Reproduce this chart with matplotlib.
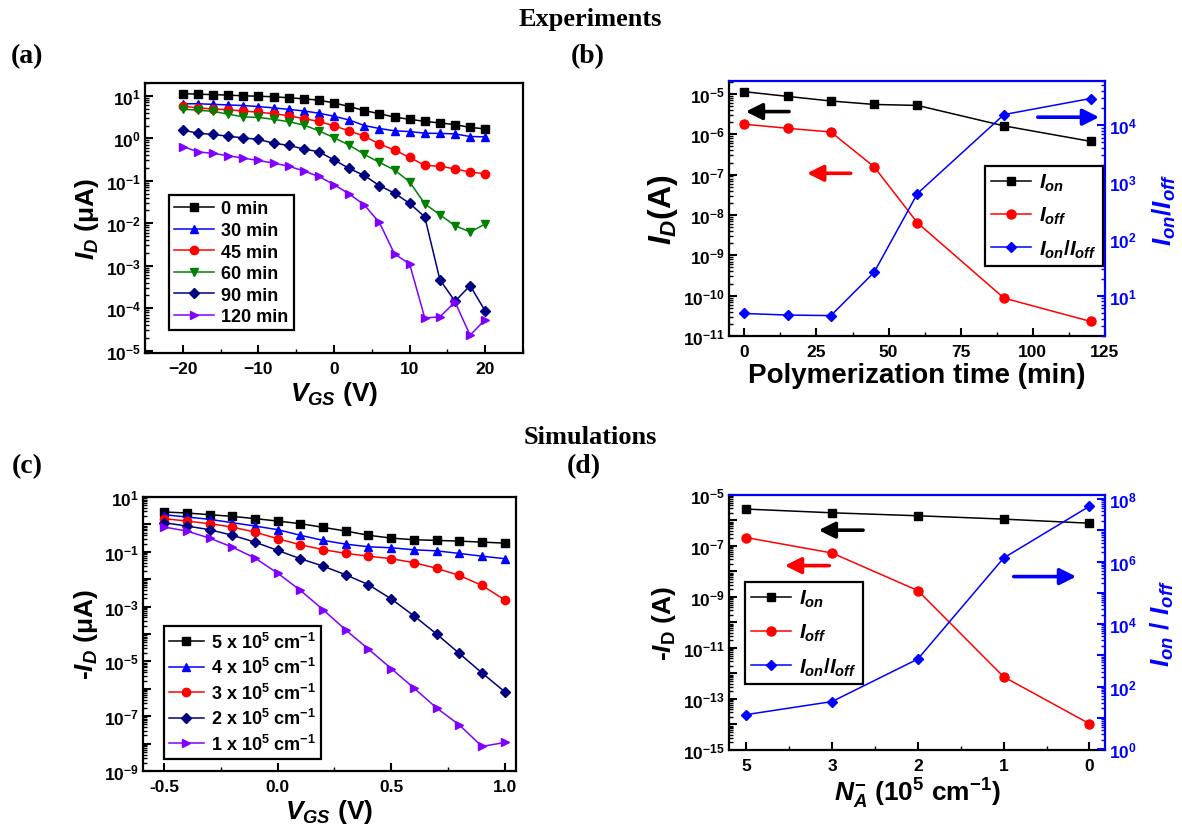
import numpy as np
import matplotlib
matplotlib.use("Agg")
import matplotlib.pyplot as plt
from matplotlib.ticker import FixedLocator, FuncFormatter, LogLocator, NullFormatter, MultipleLocator

plt.rcParams['font.family'] = ['Liberation Sans', 'DejaVu Sans']
plt.rcParams['font.weight'] = 'bold'
plt.rcParams['axes.labelweight'] = 'bold'
plt.rcParams['mathtext.fontset'] = 'custom'
plt.rcParams['mathtext.rm'] = 'Liberation Sans:bold'
plt.rcParams['mathtext.bf'] = 'Liberation Sans:bold'
plt.rcParams['mathtext.it'] = 'Liberation Sans:bold:italic'
plt.rcParams['mathtext.bfit'] = 'Liberation Sans:bold:italic'
plt.rcParams['axes.linewidth'] = 1.6

# ---------------- data ----------------
# (a) experiments, transfer curves
vgs_a = [-20, -18, -16, -14, -12, -10, -8, -6, -4, -2, 0, 2, 4, 6, 8, 10, 12, 14, 16, 18, 20]
id_0min = [11.3, 10.9, 10.7, 10.4, 10.0, 9.8, 9.5, 9.0, 8.5, 7.9, 6.8, 5.6, 4.5, 3.8, 3.15, 2.8, 2.5, 2.3, 2.1, 1.8, 1.67]
id_30min = [6.5, 6.5, 6.3, 6.1, 5.9, 5.6, 5.2, 4.8, 4.4, 3.9, 3.3, 2.7, 2.0, 1.7, 1.5, 1.44, 1.32, 1.3, 1.27, 1.1, 1.08]
id_45min = [5.7, 5.2, 4.9, 4.7, 4.4, 4.1, 3.8, 3.4, 2.9, 2.5, 1.96, 1.5, 1.12, 0.73, 0.53, 0.355, 0.23, 0.22, 0.19, 0.16, 0.146]
id_60min = [4.85, 4.6, 4.3, 3.7, 3.2, 3.1, 2.8, 2.45, 2.05, 1.5, 1.03, 0.69, 0.42, 0.27, 0.18, 0.094, 0.0287, 0.0158, 0.0088, 0.0062, 0.0096]
id_90min = [1.56, 1.32, 1.23, 1.12, 1.02, 0.94, 0.77, 0.68, 0.56, 0.48, 0.31, 0.195, 0.133, 0.077, 0.051, 0.0293, 0.0141, 4.7e-4, 1.45e-4, 3.4e-4, 8.5e-5]
id_120min = [0.64, 0.48, 0.44, 0.39, 0.34, 0.30, 0.26, 0.22, 0.17, 0.126, 0.081, 0.049, 0.027, 0.0104, 0.00189, 0.0011, 5.9e-5, 6.2e-5, 1.4e-4, 2.3e-5, 5.4e-5]
labels_a = ['0 min', '30 min', '45 min', '60 min', '90 min', '120 min']

# (b) experiments, on/off vs polymerization time
poly_time = [0, 15, 30, 45, 60, 90, 120]
ion_b = [1.14e-5, 8.7e-6, 6.7e-6, 5.5e-6, 5.2e-6, 1.62e-6, 6.7e-7]
ioff_b = [1.78e-6, 1.41e-6, 1.14e-6, 1.56e-7, 6.4e-9, 8.7e-11, 2.3e-11]
ratio_b = [4.9, 4.6, 4.5, 26, 630, 15400, 29500]

# (c) simulations, transfer curves
vgs_c = [-0.5, -0.4, -0.3, -0.2, -0.1, 0.0, 0.1, 0.2, 0.3, 0.4, 0.5, 0.6, 0.7, 0.8, 0.9, 1.0]
id_5 = [2.83, 2.6, 2.25, 1.96, 1.62, 1.32, 1.06, 0.78, 0.57, 0.40, 0.315, 0.275, 0.26, 0.245, 0.225, 0.207]
id_4 = [2.25, 1.85, 1.53, 1.15, 0.87, 0.64, 0.40, 0.26, 0.19, 0.152, 0.14, 0.118, 0.108, 0.087, 0.069, 0.056]
id_3 = [1.62, 1.32, 1.06, 0.80, 0.52, 0.30, 0.18, 0.12, 0.087, 0.069, 0.056, 0.040, 0.025, 0.0137, 0.0059, 0.00176]
id_2 = [1.15, 0.87, 0.64, 0.40, 0.225, 0.112, 0.056, 0.030, 0.0144, 0.0063, 0.00191, 4.6e-4, 1.0e-4, 1.95e-5, 3.8e-6, 7.8e-7]
id_1 = [0.80, 0.57, 0.315, 0.148, 0.059, 0.0166, 3.9e-3, 7.7e-4, 1.4e-4, 2.8e-5, 5.5e-6, 1.07e-6, 2.0e-7, 4.8e-8, 7.9e-9, 1.1e-8]
labels_c = [r'5 x 10$^{5}$ cm$^{-1}$', r'4 x 10$^{5}$ cm$^{-1}$', r'3 x 10$^{5}$ cm$^{-1}$',
            r'2 x 10$^{5}$ cm$^{-1}$', r'1 x 10$^{5}$ cm$^{-1}$']

# (d) simulations, on/off vs N_A
na_labels = ['5', '3', '2', '1', '0']
ion_d = [2.8e-6, 2.0e-6, 1.53e-6, 1.13e-6, 7.8e-7]
ioff_d = [2.14e-7, 5.3e-8, 1.78e-9, 7.4e-13, 1.07e-14]
ratio_d = [12.6, 33, 760, 1.3e6, 5.9e7]

VIOLET = '#8000FF'
NAVY = '#000080'
GREEN = '#008000'
BLUE = '#0000FF'
RED = '#FF0000'

TICK_FS = 12.5
LAB_FS = 19


def decade_formatter(labeled):
    def f(v, pos):
        e = int(round(np.log10(v)))
        if e in labeled:
            return r'$10^{%d}$' % e
        return ''
    return FuncFormatter(f)


def set_log_y(ax, lo_e, hi_e, labeled, color='black'):
    ax.set_yscale('log')
    ax.yaxis.set_major_locator(FixedLocator([10.0 ** e for e in range(lo_e, hi_e + 1)]))
    ax.yaxis.set_major_formatter(decade_formatter(labeled))
    ax.yaxis.set_minor_locator(LogLocator(base=10, subs=np.arange(2, 10), numticks=100))
    ax.yaxis.set_minor_formatter(NullFormatter())
    ax.tick_params(axis='y', which='major', direction='in', length=6, width=1.5,
                   labelsize=TICK_FS, colors=color, pad=3)
    ax.tick_params(axis='y', which='minor', direction='in', length=3, width=1.0, colors=color)


def style_x(ax):
    ax.tick_params(axis='x', which='major', direction='in', length=6, width=1.5, labelsize=TICK_FS, pad=6)
    ax.tick_params(axis='x', which='minor', direction='in', length=3, width=1.0)


def box_legend(ax, handles, labels, anchor, fs, hl, ls):
    lg = ax.legend(handles, labels, loc='upper left', bbox_to_anchor=anchor, borderaxespad=0,
                   fontsize=fs, frameon=True, fancybox=False, edgecolor='black', framealpha=1,
                   handlelength=hl, handletextpad=0.4, labelspacing=ls, borderpad=0.3)
    lg.get_frame().set_linewidth(1.6)
    return lg


fig = plt.figure(figsize=(11.82, 8.28), dpi=100)

# ---------------- (a) ----------------
axa = fig.add_axes([0.1227, 0.5725, 0.3198, 0.326])
series_a = [id_0min, id_30min, id_45min, id_60min, id_90min, id_120min]
colors_a = ['black', BLUE, RED, GREEN, NAVY, VIOLET]
markers_a = ['s', '^', 'o', 'v', 'D', '>']
ha = []
for ys, c, m in zip(series_a, colors_a, markers_a):
    h, = axa.plot(vgs_a, ys, color=c, marker=m, markersize=6 if m != 'D' else 5.5, lw=1.1)
    ha.append(h)
axa.set_xlim(-25, 25)
axa.set_ylim(8.8e-6, 20)
set_log_y(axa, -5, 1, range(-5, 2))
axa.xaxis.set_major_locator(MultipleLocator(10))
axa.xaxis.set_minor_locator(MultipleLocator(5))
style_x(axa)
axa.set_xlabel(r'$V_{GS}$ (V)', fontsize=LAB_FS, labelpad=2)
axa.set_ylabel(r'$I_{D}$ (μA)', fontsize=LAB_FS, labelpad=3)
box_legend(axa, ha, labels_a, (0.063, 0.585), 13, 2.2, 0.25)

# ---------------- (b) ----------------
axb = fig.add_axes([0.6168, 0.593, 0.318, 0.308])
axb2 = axb.twinx()
l1, = axb.plot(poly_time, ion_b, color='black', marker='s', markersize=6, lw=1.1)
l2, = axb.plot(poly_time, ioff_b, color=RED, marker='o', markersize=6.5, lw=1.1)
l3, = axb2.plot(poly_time, ratio_b, color=BLUE, marker='D', markersize=5.5, lw=1.1)
axb.set_xlim(-5.3, 125)
axb.set_ylim(1e-11, 2.1e-5)
axb2.set_ylim(1.97, 6e4)
set_log_y(axb, -11, -5, range(-11, -4))
set_log_y(axb2, 0, 5, [1, 2, 3, 4], color=BLUE)
axb.xaxis.set_major_locator(MultipleLocator(25))
axb.xaxis.set_minor_locator(MultipleLocator(12.5))
style_x(axb)
axb.set_xlabel('Polymerization time (min)', fontsize=20, labelpad=2)
axb.set_ylabel(r'$I_{D}$(A)', fontsize=23, labelpad=2)
axb2.set_ylabel(r'$I_{on}/I_{off}$', fontsize=LAB_FS, color=BLUE, labelpad=10)
for s in ['right', 'top']:
    axb2.spines[s].set_color(BLUE)
    axb.spines[s].set_visible(False)
axb2.spines['left'].set_visible(False)
axb2.spines['bottom'].set_visible(False)
box_legend(axb2, [l1, l2, l3], [r'$I_{on}$', r'$I_{off}$', r'$I_{on}/I_{off}$'],
           (0.681, 0.667), 15, 1.9, 0.55)
arrow_kw = dict(arrowstyle='-|>,head_length=0.7,head_width=0.35', lw=2.6, mutation_scale=14)
axb2.annotate('', xy=(0.037, 0.88), xytext=(0.167, 0.88), xycoords='axes fraction',
              arrowprops=dict(color='black', **arrow_kw))
axb2.annotate('', xy=(0.200, 0.638), xytext=(0.331, 0.638), xycoords='axes fraction',
              arrowprops=dict(color=RED, **arrow_kw))
axb2.annotate('', xy=(0.992, 0.858), xytext=(0.814, 0.858), xycoords='axes fraction',
              arrowprops=dict(color=BLUE, **arrow_kw))

# ---------------- (c) ----------------
axc = fig.add_axes([0.121, 0.0676, 0.3156, 0.331])
series_c = [id_5, id_4, id_3, id_2, id_1]
colors_c = ['black', BLUE, RED, NAVY, VIOLET]
markers_c = ['s', '^', 'o', 'D', '>']
hc = []
for ys, c, m in zip(series_c, colors_c, markers_c):
    h, = axc.plot(vgs_c, ys, color=c, marker=m, markersize=6 if m != 'D' else 5.5, lw=1.1)
    hc.append(h)
axc.set_xlim(-0.593, 1.05)
axc.set_ylim(1e-9, 10)
set_log_y(axc, -9, 1, [1, -1, -3, -5, -7, -9])
axc.xaxis.set_major_locator(MultipleLocator(0.5))
axc.xaxis.set_minor_locator(MultipleLocator(0.25))
axc.xaxis.set_major_formatter(FuncFormatter(lambda v, p: '%.1f' % v))
style_x(axc)
axc.set_xlabel(r'$V_{GS}$ (V)', fontsize=LAB_FS, labelpad=2)
axc.set_ylabel(r'-$I_{D}$ (μA)', fontsize=LAB_FS, labelpad=3)
box_legend(axc, hc, labels_c, (0.056, 0.529), 13, 1.9, 0.3)

# ---------------- (d) ----------------
axd = fig.add_axes([0.6168, 0.093, 0.318, 0.308])
axd2 = axd.twinx()
xd = np.arange(len(na_labels))
m1, = axd.plot(xd, ion_d, color='black', marker='s', markersize=6, lw=1.1)
m2, = axd.plot(xd, ioff_d, color=RED, marker='o', markersize=6.5, lw=1.1)
m3, = axd2.plot(xd, ratio_d, color=BLUE, marker='D', markersize=5.5, lw=1.1)
axd.set_xlim(-0.2, 4.18)
axd.set_ylim(1e-15, 1e-5)
axd2.set_ylim(0.93, 1.35e8)
set_log_y(axd, -15, -5, [-5, -7, -9, -11, -13, -15])
set_log_y(axd2, 0, 8, [0, 2, 4, 6, 8], color=BLUE)
axd.xaxis.set_major_locator(FixedLocator(xd))
axd.xaxis.set_minor_locator(FixedLocator(xd[:-1] + 0.5))
axd.set_xticklabels(na_labels)
style_x(axd)
axd.set_xlabel(r'$N_{A}^{-}$ (10$^{5}$ cm$^{-1}$)', fontsize=LAB_FS, labelpad=2)
axd.set_ylabel(r'-$I_{\mathrm{D}}$ (A)', fontsize=LAB_FS, labelpad=4)
axd2.set_ylabel(r'$I_{on}$ / $I_{off}$', fontsize=LAB_FS, color=BLUE, labelpad=8)
for s in ['right', 'top']:
    axd2.spines[s].set_color(BLUE)
    axd.spines[s].set_visible(False)
axd2.spines['left'].set_visible(False)
axd2.spines['bottom'].set_visible(False)
box_legend(axd2, [m1, m2, m3], [r'$I_{on}$', r'$I_{off}$', r'$I_{on}/I_{off}$'],
           (0.043, 0.659), 15, 1.9, 0.6)
axd2.annotate('', xy=(0.231, 0.862), xytext=(0.364, 0.862), xycoords='axes fraction',
              arrowprops=dict(color='black', **arrow_kw))
axd2.annotate('', xy=(0.141, 0.723), xytext=(0.274, 0.723), xycoords='axes fraction',
              arrowprops=dict(color=RED, **arrow_kw))
axd2.annotate('', xy=(0.931, 0.680), xytext=(0.750, 0.680), xycoords='axes fraction',
              arrowprops=dict(color=BLUE, **arrow_kw))

# ---------------- titles & panel labels ----------------
serif = ['Liberation Serif', 'DejaVu Serif']
fig.text(0.499, 0.976, 'Experiments', ha='center', va='center', fontsize=19, fontweight='bold', family=serif)
fig.text(0.499, 0.472, 'Simulations', ha='center', va='center', fontsize=19, fontweight='bold', family=serif)
fig.text(0.023, 0.932, '(a)', ha='center', va='center', fontsize=20, fontweight='bold', family=serif)
fig.text(0.497, 0.932, '(b)', ha='center', va='center', fontsize=20, fontweight='bold', family=serif)
fig.text(0.023, 0.436, '(c)', ha='center', va='center', fontsize=20, fontweight='bold', family=serif)
fig.text(0.494, 0.436, '(d)', ha='center', va='center', fontsize=20, fontweight='bold', family=serif)

fig.savefig('out.png', dpi=100)
